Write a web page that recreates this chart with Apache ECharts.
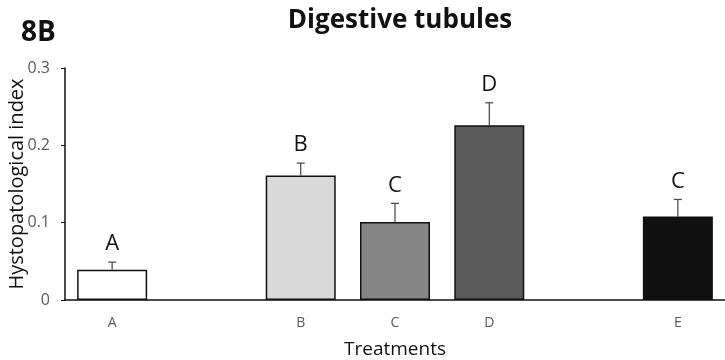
<!DOCTYPE html>
<html><head><meta charset="utf-8">
<script src="https://cdn.jsdelivr.net/npm/echarts@6/dist/echarts.min.js"></script>
<style>html,body{margin:0;padding:0;background:#fff}#c{width:725px;height:360px}</style>
</head><body><div id="c"></div>
<script>
// x-axis slots (blank slots are gaps between treatment groups)
const slots = ['A', '', 'B', 'C', 'D', '', 'E'];
const treatments = ['A', 'B', 'C', 'D', 'E'];
const means = [0.039, 0.161, 0.101, 0.226, 0.108];
const errors = [0.010, 0.016, 0.024, 0.029, 0.022];
const letters = ['A', 'B', 'C', 'D', 'C'];
const colors = ['#ffffff', '#d9d9d9', '#868686', '#595959', '#111111'];
const yTicks = [0, 0.1, 0.2, 0.3];

const FONT = '"Open Sans", "DejaVu Sans", sans-serif';
const barData = slots.map(s => {
  const i = treatments.indexOf(s);
  if (!s || i < 0) return '-';
  return { value: means[i], itemStyle: { color: colors[i] } };
});
const errData = treatments.map((t, i) => [slots.indexOf(t), means[i], means[i] + errors[i], letters[i]]);

const chart = echarts.init(document.getElementById('c'));
chart.setOption({
  animation: false,
  title: [
    { text: 'Digestive tubules', left: 395, top: 3, textAlign: 'center',
      textStyle: { fontFamily: FONT, fontWeight: 'bold', fontSize: 26, color: '#111' } },
    { text: '8B', left: 16, top: 14,
      textStyle: { fontFamily: FONT, fontWeight: 'bold', fontSize: 28, color: '#111' } }
  ],
  grid: { left: 65, right: 0, top: 68, bottom: 60, containLabel: false, outerBoundsMode: 'none' },
  xAxis: {
    type: 'category', data: slots,
    name: 'Treatments', nameLocation: 'middle', nameGap: 40, nameMoveOverlap: false,
    nameTextStyle: { fontFamily: FONT, fontSize: 19, color: '#111' },
    axisLine: { lineStyle: { color: '#111', width: 1.5 } },
    axisTick: { show: false },
    axisLabel: { fontFamily: FONT, fontSize: 14, color: '#595959', margin: 16, interval: 0 }
  },
  yAxis: {
    type: 'value', min: 0, max: 0.3, interval: 0.1,
    name: 'Hystopatological index', nameLocation: 'middle', nameGap: 38, nameMoveOverlap: false,
    nameTextStyle: { fontFamily: FONT, fontSize: 20, color: '#111' },
    axisLine: { show: true, lineStyle: { color: '#111', width: 1.5 } },
    axisTick: { show: true, length: 4, lineStyle: { color: '#111' } },
    splitLine: { show: false },
    axisLabel: { fontFamily: FONT, fontSize: 16, color: '#595959', margin: 15,
      formatter: v => (yTicks.some(t => Math.abs(t - v) < 1e-9) ? String(+v.toFixed(1)) : '') }
  },
  series: [
    { type: 'bar', data: barData, barWidth: 70,
      itemStyle: { borderColor: '#111', borderWidth: 1.5 } },
    { type: 'custom', data: errData, z: 3,
      renderItem: (params, api) => {
        const x = api.value(0);
        const p0 = api.coord([x, api.value(1)]);
        const p1 = api.coord([x, api.value(2)]);
        const cap = 4;
        return { type: 'group', children: [
          { type: 'line', shape: { x1: p0[0], y1: p0[1], x2: p1[0], y2: p1[1] },
            style: { stroke: '#444', lineWidth: 1.2 } },
          { type: 'line', shape: { x1: p1[0] - cap, y1: p1[1], x2: p1[0] + cap, y2: p1[1] },
            style: { stroke: '#444', lineWidth: 1.2 } },
          { type: 'text', x: p1[0], y: p1[1] - 7,
            style: { text: api.value(3), fontFamily: FONT, fontSize: 22, fill: '#111',
              align: 'center', verticalAlign: 'bottom' } }
        ] };
      }
    }
  ]
});
</script></body></html>
